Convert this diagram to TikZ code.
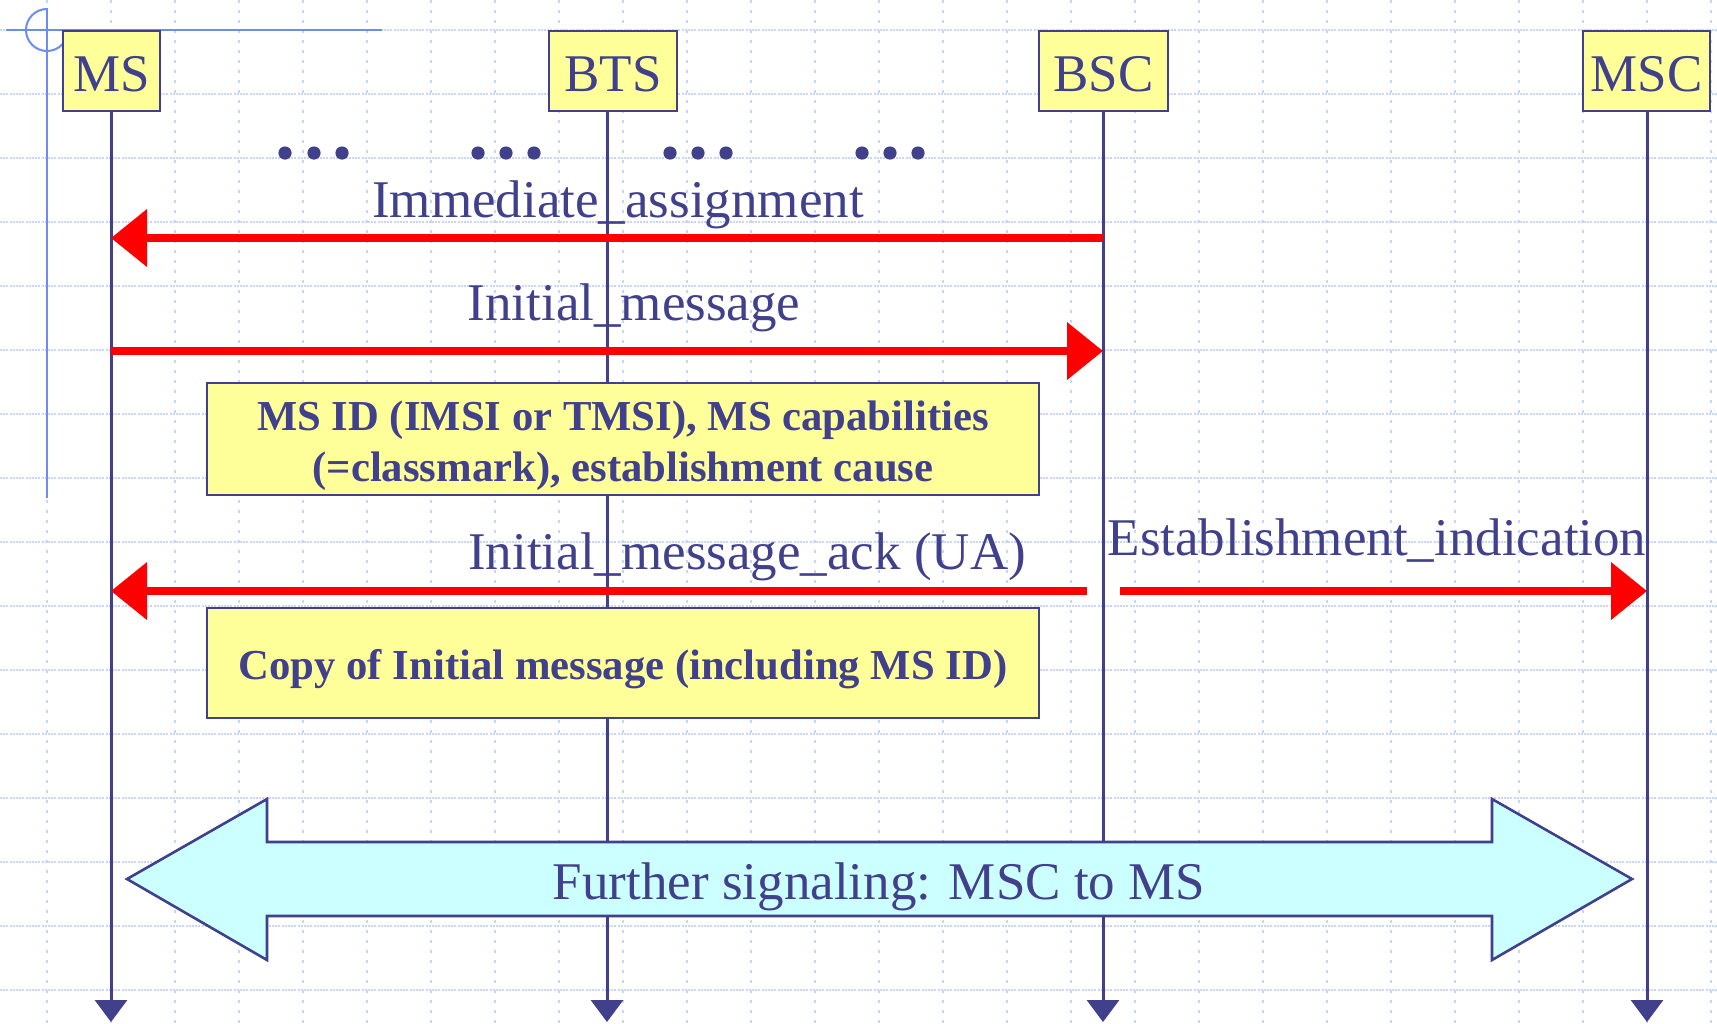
\documentclass[tikz,border=0pt]{standalone}
\usepackage{fontspec}
\setmainfont{Liberation Serif}
\usetikzlibrary{arrows.meta}
\definecolor{navy}{RGB}{64,64,140}
\definecolor{boxyellow}{RGB}{255,255,153}
\definecolor{paleCyan}{RGB}{204,255,255}
\definecolor{gridblue}{RGB}{200,214,245}
\definecolor{tplblue}{RGB}{110,140,240}
\begin{document}
\begin{tikzpicture}[x=0.5pt,y=-0.5pt,
  entity/.style={draw=navy, line width=1.3pt, fill=boxyellow, minimum height=40pt,
    inner sep=0pt, text=navy, font=\fontsize{26.5}{30}\selectfont,
    text height=20pt, text depth=0pt},
  lifeline/.style={draw=navy, line width=1.5pt, -{Triangle[width=16pt,length=11pt]}},
  msg/.style={draw=red, line width=3.75pt, -{Triangle[width=28pt,length=18pt]}},
  lbl/.style={text=navy, font=\fontsize{26.5}{30}\selectfont, inner sep=0pt, anchor=base},
  infobox/.style={draw=navy, line width=1.3pt, fill=boxyellow, minimum width=416pt, inner sep=0pt},
  infotext/.style={text=navy, font=\bfseries\fontsize{21.35}{25.5}\selectfont, align=center, inner sep=0pt},
  hgrid/.style={draw=gridblue, line width=0.65pt, dash pattern=on 1pt off 0.6pt},
  vgrid/.style={draw=gridblue, line width=0.65pt, dash pattern=on 1.3pt off 3.7pt},
]
\useasboundingbox (0,0) rectangle (1717,1023);
\fill[white] (0,0) rectangle (1717,1023);
% grid
\foreach \k in {0,...,15} \draw[hgrid] (0,30+64*\k) -- (1717,30+64*\k);
\foreach \k in {0,...,26} \draw[vgrid] (47+64*\k,0) -- (47+64*\k,1023);
% template lines
\draw[tplblue, line width=1pt] (6,30) -- (382,30);
\draw[tplblue, line width=1pt] (47,8) -- (47,498);
\draw[tplblue, line width=1pt] (47,30) ++(90:10.5pt) arc[start angle=90, end angle=360, radius=10.5pt];
% entities
\node[entity, minimum width=48.5pt] (ms)  at (111.5,71) {MS};
\node[entity, minimum width=64pt]   (bts) at (613,71)   {BTS};
\node[entity, minimum width=64.5pt] (bsc) at (1103.5,71) {BSC};
\node[entity, minimum width=63.5pt] (msc) at (1646.5,71) {MSC};
% lifelines
\coordinate (msEnd)  at (111,1022);
\coordinate (btsEnd) at (607,1022);
\coordinate (bscEnd) at (1103,1022);
\coordinate (mscEnd) at (1647,1022);
\draw[lifeline] (ms.south -| msEnd) -- (msEnd);
\draw[lifeline] (bts.south -| btsEnd) -- (btsEnd);
\draw[lifeline] (bsc.south -| bscEnd) -- (bscEnd);
\draw[lifeline] (msc.south -| mscEnd) -- (mscEnd);
% dots
\foreach \x in {285,314,342, 478,506,534, 670,698,726, 862,890,918}
  \fill[navy] (\x,153) circle[radius=3.3pt];
% messages
\coordinate (m1s) at (1103,238); \coordinate (m1e) at (111,238);
\coordinate (m2s) at (111,351);  \coordinate (m2e) at (1103,351);
\coordinate (m3s) at (1087,591); \coordinate (m3e) at (111,591);
\coordinate (m4s) at (1120,591); \coordinate (m4e) at (1647,591);
\draw[msg] (m1s) -- (m1e);
\draw[msg] (m2s) -- (m2e);
\draw[msg] (m3s) -- (m3e);
\draw[msg] (m4s) -- (m4e);
\node[lbl] (l1) at (618,217) {Immediate\_assignment};
\node[lbl] (l2) at (634,320) {Initial\_message};
\node[lbl] (l3) at (747,569) {Initial\_message\_ack (UA)};
\node[lbl] (l4) at (1377,555) {Establishment\_indication};
% info boxes
\node[infobox, minimum height=56pt] (info1) at (623,439) {};
\node[infotext, yshift=-3.2pt] (info1t) at (info1.center) {MS ID (IMSI or TMSI), MS capabilities\\(=classmark), establishment cause};
\node[infobox, minimum height=55pt] (info2) at (623,663) {};
\node[infotext, yshift=-2.9pt] (info2t) at (info2.center) {Copy of Initial message (including MS ID)};
% further signaling
\draw[navy, line width=1.3pt, fill=paleCyan, line join=miter]
  (127,879) -- (267,799) -- (267,842) -- (1492,842) -- (1492,799) -- (1632,879)
  -- (1492,960) -- (1492,916) -- (267,916) -- (267,960) -- cycle;
\node[lbl] (further) at (879,899) {Further signaling: MSC to MS};
\end{tikzpicture}
\end{document}
